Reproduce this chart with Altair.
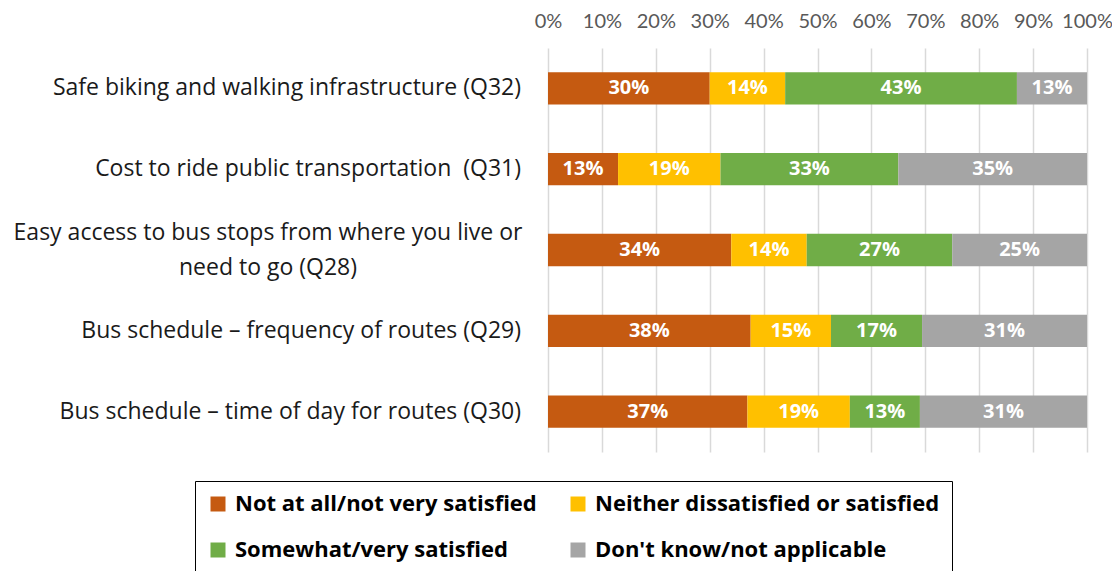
import altair as alt
import pandas as pd

categories = [
    "Safe biking and walking infrastructure (Q32)",
    "Cost to ride public transportation  (Q31)",
    "Easy access to bus stops from where you live or need to go (Q28)",
    "Bus schedule – frequency of routes (Q29)",
    "Bus schedule – time of day for routes (Q30)",
]
responses = [
    "Not at all/not very satisfied",
    "Neither dissatisfied or satisfied",
    "Somewhat/very satisfied",
    "Don't know/not applicable",
]
colors = ["#C55A11", "#FFC000", "#70AD47", "#A5A5A5"]

not_satisfied = [30, 13, 34, 37.6, 37]
neither = [14, 19, 14, 14.9, 19]
somewhat = [43, 33, 27, 16.9, 13]
dont_know = [13, 35, 25, 30.6, 31]

series = [not_satisfied, neither, somewhat, dont_know]
rows = []
for ci, cat in enumerate(categories):
    for ri, resp in enumerate(responses):
        rows.append({"cat": cat, "response": resp, "order": ri, "value": series[ri][ci]})
df = pd.DataFrame(rows)

single = [c for c in categories if "(Q28)" not in c]
multi = [c for c in categories if "(Q28)" in c]
# non-breaking space keeps the doubled space visible in SVG
lab_single = pd.DataFrame({"cat": single, "label": [c.replace("  ", "\u00a0 ") for c in single]})
lab_multi = pd.DataFrame({"cat": multi, "label": ["Easy access to bus stops from where you live or\nneed to go (Q28)"]})

LABEL_FONT = "'Open Sans', Lato, sans-serif"
LEGEND_FONT = "'Open Sans', sans-serif"

yscale = alt.Scale(domain=categories, paddingInner=0.6, paddingOuter=0.3)
y = alt.Y("cat:N", scale=yscale, sort=categories, axis=None)

base = alt.Chart(df).transform_stack(
    stack="value", groupby=["cat"], as_=["v0", "v1"], sort=[alt.SortField("order", order="ascending")]
).transform_calculate(
    mid="(datum.v0 + datum.v1) / 2",
    txt="format(datum.value, '.0f') + '%'",
)

bars = base.mark_bar().encode(
    x=alt.X(
        "v0:Q",
        scale=alt.Scale(domain=[0, 100], nice=False),
        axis=alt.Axis(
            orient="top",
            values=list(range(0, 101, 10)),
            labelExpr="datum.value + '%'",
            title=None,
            domain=False,
            ticks=False,
            grid=True,
            gridColor="#D9D9D9",
            gridWidth=1.5,
            labelColor="#595959",
            labelFont="Lato",
            labelFontSize=20,
            labelPadding=17,
            labelOverlap=False,
            labelBound=False,
            labelFlush=False,
        ),
    ),
    x2="v1:Q",
    y=y,
    color=alt.Color(
        "response:N",
        scale=alt.Scale(domain=responses, range=colors),
        legend=alt.Legend(
            title=None,
            orient="none",
            direction="horizontal",
            legendX=-353,
            legendY=433,
            columns=2,
            columnPadding=30,
            rowPadding=24,
            padding=12,
            gridAlign="each",
            strokeColor="black",
            fillColor="white",
            symbolType="square",
            symbolSize=225,
            symbolStrokeWidth=0,
            labelFont=LEGEND_FONT,
            labelFontSize=22,
            labelFontWeight="bold",
            labelColor="black",
            labelLimit=500,
            labelOffset=6,
        ),
    ),
)

texts = base.mark_text(color="white", font="'Open Sans', sans-serif", fontWeight="bold", fontSize=20).encode(
    x="mid:Q",
    y=y,
    text="txt:N",
)

ylab1 = alt.Chart(lab_single).mark_text(
    align="right", baseline="middle", font=LABEL_FONT, fontSize=23, color="#1a1a1a"
).encode(x=alt.value(-27), y=y, text="label:N")

ylab2 = alt.Chart(lab_multi).mark_text(
    align="center", baseline="middle", font=LABEL_FONT, fontSize=23, color="#1a1a1a",
    lineBreak="\n", lineHeight=35, dy=-17,
).encode(x=alt.value(-280), y=y, text="label:N")

chart = alt.layer(bars, texts, ylab1, ylab2).properties(
    width=539,
    height=404,
    padding={"left": 540, "top": 40, "right": 25, "bottom": 119},
    autosize=alt.AutoSizeParams(type="none"),
).configure_view(stroke=None)

chart.save("out.html", embed_options={"renderer": "svg", "actions": False})
